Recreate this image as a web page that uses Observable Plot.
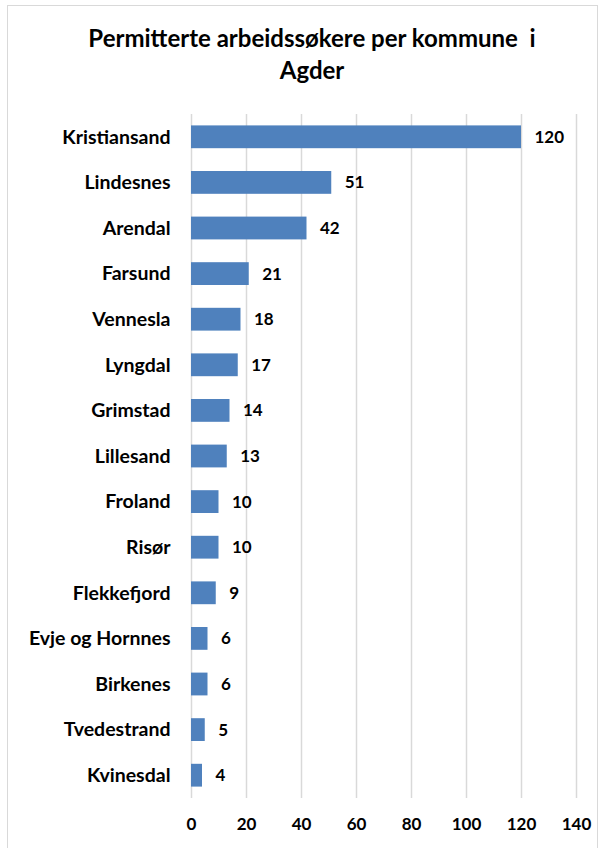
<!DOCTYPE html>
<html>
<head>
<meta charset="utf-8">
<script src="https://cdn.jsdelivr.net/npm/d3@7"></script>
<script src="https://cdn.jsdelivr.net/npm/@observablehq/plot@0.6"></script>
<style>
  html, body { margin: 0; padding: 0; background: #fff; }
  #frame { position: absolute; left: 7px; top: 5px; width: 591px; height: 850px; border: 1.5px solid #d9d9d9; box-sizing: border-box; }
  #title { position: absolute; left: 0; top: 22px; width: 624px; text-align: center; font-family: Lato, "Open Sans", sans-serif; font-weight: 700; font-size: 24px; line-height: 32px; color: #000; white-space: nowrap; }
  #chart { position: absolute; left: 0; top: 95px; }
</style>
</head>
<body>
<div id="frame"></div>
<div id="title">Permitterte arbeidssøkere per kommune&nbsp; i<br>Agder</div>
<div id="chart"></div>
<script>
const municipalities = ["Kristiansand","Lindesnes","Arendal","Farsund","Vennesla","Lyngdal","Grimstad","Lillesand","Froland","Risør","Flekkefjord","Evje og Hornnes","Birkenes","Tvedestrand","Kvinesdal"];
const values = [120,51,42,21,18,17,14,13,10,10,9,6,6,5,4];
const xTicks = [0,20,40,60,80,100,120,140];

const data = municipalities.map((m, i) => ({name: m, value: values[i]}));

const plot = Plot.plot({
  width: 605,
  height: 753,
  marginLeft: 191,
  marginRight: 29,
  marginTop: 19,
  marginBottom: 50,
  style: {fontFamily: "Lato, 'Open Sans', sans-serif", fontSize: "18px", fontWeight: 700, color: "#000", background: "transparent"},
  x: {domain: [0, 140], ticks: xTicks, label: null},
  y: {domain: municipalities, paddingInner: 0.5, paddingOuter: 0.25, round: false, label: null},
  marks: [
    Plot.ruleX(xTicks, {stroke: "#d9d9d9", strokeWidth: 1.5}),
    Plot.barX(data, {x: "value", y: "name", fill: "#4f81bd"}),
    Plot.text(data, {x: "value", y: "name", text: d => String(d.value), textAnchor: "start", dx: 13, fill: "#000", fontSize: 17, fontWeight: 700}),
    Plot.axisX({ticks: xTicks, tickSize: 0, tickPadding: 19, label: null, fontSize: 17, fontWeight: 700}),
    Plot.axisY({tickSize: 0, tickPadding: 21, label: null, fontSize: 19.5, fontWeight: 700})
  ]
});
document.getElementById("chart").appendChild(plot);
</script>
</body>
</html>
